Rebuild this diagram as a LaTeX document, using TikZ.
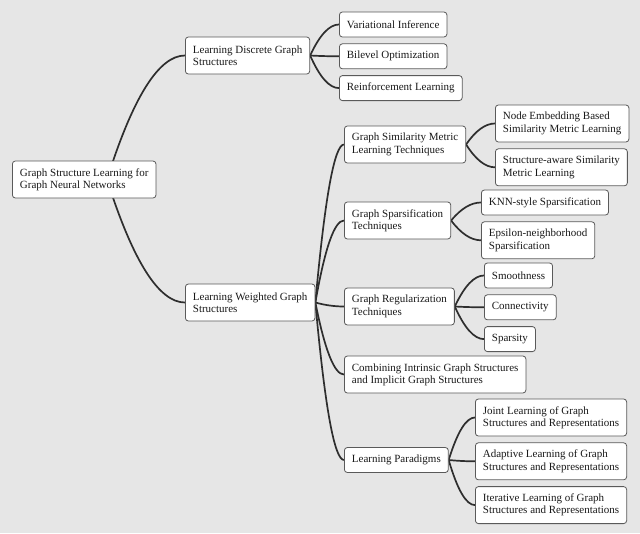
\documentclass[tikz,border=0pt]{standalone}
\usepackage{fontspec}
\setmainfont{Liberation Serif}
\usetikzlibrary{positioning,calc}
\pgfdeclarelayer{bg}
\pgfsetlayers{bg,main}
\definecolor{paper}{HTML}{E6E6E6}
\definecolor{wire}{HTML}{2E2E2E}
\definecolor{rim}{HTML}{5A5A5A}
\tikzset{
  topic/.style={draw=rim, fill=white, rounded corners=3pt, line width=0.8pt,
    align=left, inner xsep=7.5pt, font=\fontsize{11}{12.3}\selectfont,
    text=black!90, anchor=west},
  one/.style={topic, minimum height=25pt},
  two/.style={topic, minimum height=37pt},
  link/.style={draw=wire, line width=1.7pt},
}
% curve from a parent point into the west side of a child
\newcommand{\branch}[2]{%
  \draw[link] let \p1=(#1), \p2=(#2.west) in
    (\p1) .. controls ({\x1+(\x2-\x1)/3},{\y1+2*(\y2-\y1)/3})
    and ({\x2-(\x2-\x1)/3},\y2) .. (\p2);}

\begin{document}
\begin{tikzpicture}[x=1pt, y=-1pt]
    \useasboundingbox (0,0) rectangle (640,533);

    % Define nodes
    \node[two]	(root)	at (12,179.5)	{Graph Structure Learning for\\Graph Neural Networks};
    \coordinate	(rootout)	at (107,179.5);

    \node[two]	(ldgs)	at (185,55.5)	{Learning Discrete Graph\\Structures};
    \node[one]	(vi)	at (339,24.5)	{Variational Inference};
    \node[one, below right=6pt and 0pt of vi.south west]	(bo)	{Bilevel Optimization};
    \node[one, below right=6pt and 0pt of bo.south west]	(rl)	{Reinforcement Learning};

    \node[two]	(lwgs)	at (185,302.5)	{Learning Weighted Graph\\Structures};

    \node[two]	(gsmlt)	at (344,144.5)	{Graph Similarity Metric\\Learning Techniques};
    \node[two]	(nebsml)	at (495,123.5)	{Node Embedding Based\\Similarity Metric Learning};
    \node[two, below right=6pt and 0pt of nebsml.south west]	(sasml)	{Structure-aware Similarity\\Metric Learning};

    \node[two]	(gst)	at (344,220.5)	{Graph Sparsification\\Techniques};
    \node[one]	(knn)	at (481,202.5)	{KNN-style Sparsification};
    \node[two, below right=6pt and 0pt of knn.south west]	(eps)	{Epsilon-neighborhood\\Sparsification};

    \node[two]	(grt)	at (344,306.5)	{Graph Regularization\\Techniques};
    \node[one]	(smooth)	at (484,275.5)	{Smoothness};
    \node[one, below right=6pt and 0pt of smooth.south west]	(conn)	{Connectivity};
    \node[one, below right=6pt and 0pt of conn.south west]	(spars)	{Sparsity};

    \node[two]	(cigs)	at (344,374.5)	{Combining Intrinsic Graph Structures\\and Implicit Graph Structures};

    \node[one]	(lp)	at (344,460)	{Learning Paradigms};
    \node[two]	(jl)	at (475,417.5)	{Joint Learning of Graph\\Structures and Representations};
    \node[two, below right=6pt and 0pt of jl.south west]	(al)	{Adaptive Learning of Graph\\Structures and Representations};
    \node[two, below right=6pt and 0pt of al.south west]	(il)	{Iterative Learning of Graph\\Structures and Representations};

    \begin{pgfonlayer}{bg}
    \fill[paper] (0,0) rectangle (640,533);

    % Connect nodes
    \branch{rootout}{ldgs}
    \branch{rootout}{lwgs}
    \foreach \c in {vi, bo, rl} {\branch{ldgs.east}{\c}}
    \foreach \c in {gsmlt, gst, grt, cigs, lp} {\branch{lwgs.east}{\c}}
    \foreach \c in {nebsml, sasml} {\branch{gsmlt.east}{\c}}
    \foreach \c in {knn, eps} {\branch{gst.east}{\c}}
    \foreach \c in {smooth, conn, spars} {\branch{grt.east}{\c}}
    \foreach \c in {jl, al, il} {\branch{lp.east}{\c}}
    \end{pgfonlayer}
\end{tikzpicture}
\end{document}
